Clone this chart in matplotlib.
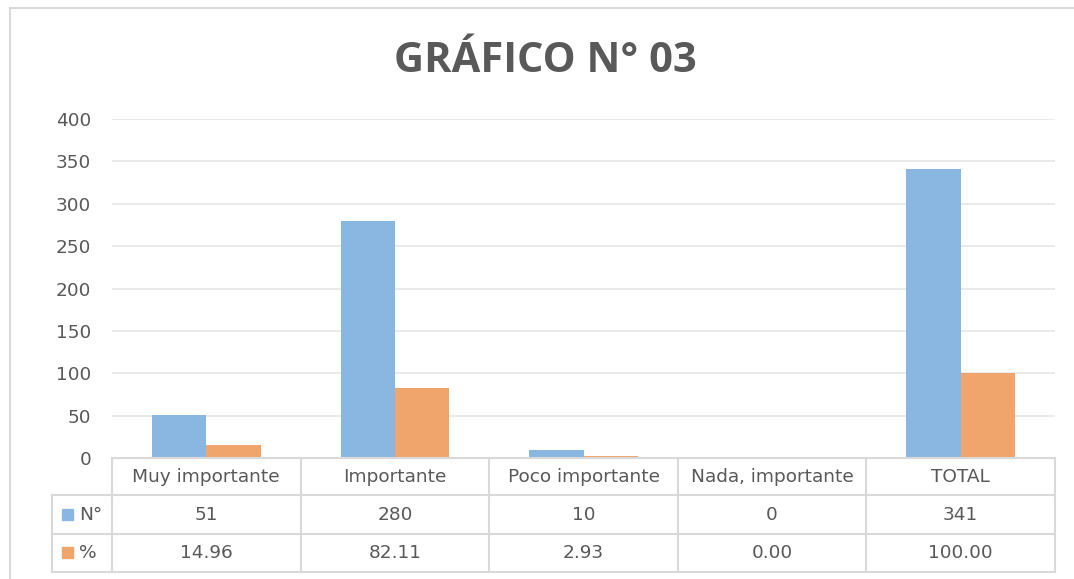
import matplotlib
matplotlib.use("Agg")
from matplotlib import pyplot as plt
from matplotlib.patches import Rectangle
from matplotlib.lines import Line2D

# data
categories = ["Muy importante", "Importante", "Poco importante", "Nada, importante", "TOTAL"]
count_values = [51, 280, 10, 0, 341]
pct_values = [14.96, 82.11, 2.93, 0.00, 100.00]
series_names = ["N°", "%"]
y_ticks = [0, 50, 100, 150, 200, 250, 300, 350, 400]

blue = "#8AB7E1"
orange = "#F0A56C"
grey_txt = "#595959"
line_col = "#D9D9D9"

plt.rcParams["font.family"] = ["DejaVu Sans"]
fs = 13.3

W, H = 1074, 579
fig = plt.figure(figsize=(W / 100, H / 100), dpi=100)


def fx(px):
    return px / W


def fy(py):
    return 1 - py / H


# outer chart frame (only top and left visible)
fig.add_artist(Line2D([fx(10), fx(1074)], [fy(8), fy(8)], color="#D9D9D9", lw=1.5))
fig.add_artist(Line2D([fx(10), fx(10)], [fy(8), fy(579)], color="#D9D9D9", lw=1.5))

fig.text(fx(545), fy(61), "GRÁFICO N° 03", ha="center", va="center",
         fontsize=30, fontweight="bold", color=grey_txt,
         family=["Open Sans", "DejaVu Sans"])

x0, x1, ytop, ybot = 112, 1055, 119, 458
ax = fig.add_axes([fx(x0), fy(ybot), fx(x1 - x0), (ybot - ytop) / H])
n = len(categories)
xs = list(range(n))
bw = 0.288
ax.bar([x - bw / 2 for x in xs], count_values, bw, color=blue, zorder=3)
ax.bar([x + bw / 2 for x in xs], pct_values, bw, color=orange, zorder=3)
ax.set_xlim(-0.5, n - 0.5)
ax.set_ylim(0, 400)
ax.set_yticks(y_ticks)
ax.set_xticks([])
ax.yaxis.grid(True, color="#E6E6E6", lw=1.2, zorder=0)
ax.tick_params(axis="y", length=0, pad=15, labelsize=fs, labelcolor=grey_txt)
for s in ax.spines.values():
    s.set_visible(False)

# data table under the plot
row_y = [458, 495, 534, 572]
col_x = [x0 + (x1 - x0) * i / n for i in range(n + 1)]
lw = 1.5
fig.add_artist(Line2D([fx(x0), fx(x1)], [fy(row_y[0])] * 2, color=line_col, lw=lw))
for yy in row_y[1:]:
    fig.add_artist(Line2D([fx(52), fx(x1)], [fy(yy)] * 2, color=line_col, lw=lw))
fig.add_artist(Line2D([fx(52), fx(52)], [fy(row_y[1]), fy(row_y[3])], color=line_col, lw=lw))
for cx in col_x:
    fig.add_artist(Line2D([fx(cx), fx(cx)], [fy(row_y[0]), fy(row_y[3])], color=line_col, lw=lw))

for i, cat in enumerate(categories):
    cx = (col_x[i] + col_x[i + 1]) / 2
    fig.text(fx(cx), fy((row_y[0] + row_y[1]) / 2), cat, ha="center", va="center",
             fontsize=fs, color=grey_txt)
    fig.text(fx(cx), fy((row_y[1] + row_y[2]) / 2), f"{count_values[i]}", ha="center",
             va="center", fontsize=fs, color=grey_txt)
    fig.text(fx(cx), fy((row_y[2] + row_y[3]) / 2), f"{pct_values[i]:.2f}", ha="center",
             va="center", fontsize=fs, color=grey_txt)

for k, (name, col) in enumerate(zip(series_names, [blue, orange])):
    yc = (row_y[k + 1] + row_y[k + 2]) / 2
    fig.add_artist(Rectangle((fx(62), fy(yc + 5)), fx(11), 11 / H, color=col))
    fig.text(fx(79), fy(yc), name, ha="left", va="center", fontsize=fs, color=grey_txt)

fig.savefig("out.png", dpi=100)
